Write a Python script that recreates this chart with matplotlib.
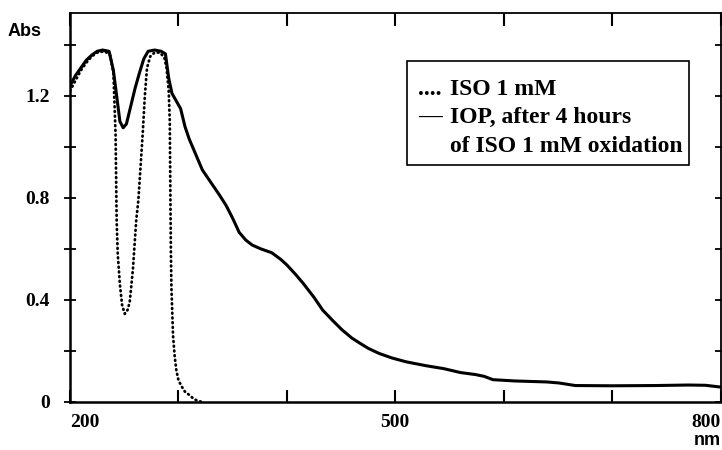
import matplotlib.pyplot as plt
from matplotlib.patches import Rectangle
from matplotlib.ticker import MultipleLocator, FixedLocator

# IOP spectrum, after 4 hours of ISO oxidation (solid line)
iop_nm = [200, 205, 210, 215, 220, 225, 230, 236, 240, 243, 246, 249, 252, 256,
          260, 264, 268, 272, 278, 284, 288, 291, 294, 298, 302, 306, 310, 316,
          322, 330, 338, 344, 350, 356, 362, 368, 376, 386, 394, 400, 408, 415,
          425, 433, 442, 451, 460, 467, 475, 485, 497, 510, 528, 545, 560, 574,
          582, 590, 610, 640, 651, 666, 700, 740, 770, 786, 800]
iop_abs = [1.24, 1.28, 1.31, 1.34, 1.36, 1.375, 1.38, 1.375, 1.30, 1.20, 1.10,
           1.075, 1.09, 1.16, 1.23, 1.29, 1.345, 1.375, 1.38, 1.375, 1.365,
           1.27, 1.21, 1.18, 1.15, 1.08, 1.03, 0.97, 0.91, 0.86, 0.81, 0.77,
           0.72, 0.665, 0.635, 0.615, 0.60, 0.585, 0.56, 0.537, 0.50, 0.465,
           0.41, 0.36, 0.32, 0.282, 0.25, 0.231, 0.21, 0.19, 0.172, 0.157,
           0.142, 0.13, 0.115, 0.107, 0.100, 0.087, 0.082, 0.078, 0.074,
           0.064, 0.063, 0.064, 0.066, 0.065, 0.058]

# ISO 1 mM spectrum (dotted line)
iso_nm = [200, 205, 210, 215, 220, 225, 232, 237, 240, 242, 243, 244, 246, 248,
          250.5, 253, 255, 258, 261, 263, 265, 267, 269, 271, 274, 278, 283,
          287, 289, 291, 292, 292.6, 293, 293.5, 295, 296.5, 298, 300, 303,
          306, 310, 314, 318, 322]
iso_abs = [1.22, 1.26, 1.30, 1.33, 1.355, 1.37, 1.375, 1.36, 1.29, 1.05, 0.71,
           0.58, 0.46, 0.38, 0.345, 0.36, 0.39, 0.52, 0.71, 0.79, 0.92, 1.05,
           1.2, 1.31, 1.355, 1.37, 1.37, 1.35, 1.31, 1.22, 1.10, 0.79, 0.60,
           0.45, 0.26, 0.18, 0.125, 0.085, 0.06, 0.04, 0.027, 0.012, 0.003, 0.0]

x_major = [200, 500, 800]
x_minor = [300, 400, 600, 700]
y_major = [0, 0.4, 0.8, 1.2]
y_labels = ['0', '0.4', '0.8', '1.2']

legend_marks = ['....', '\u2014', '']
legend_lines = ['ISO 1 mM', 'IOP, after 4 hours', 'of ISO 1 mM oxidation']

serif = 'Liberation Serif'
sans = 'Liberation Sans'

fig = plt.figure(figsize=(7.22, 4.5), dpi=100)
ax = fig.add_axes([0.097, 0.107, 0.901, 0.864])

ax.plot(iso_nm, iso_abs, color='black', lw=2.0, linestyle=(0, (0.3, 1.4)),
        dash_capstyle='round')
ax.plot(iop_nm, iop_abs, color='black', lw=2.2, solid_joinstyle='round')

ax.set_xlim(200, 800)
ax.set_ylim(0, 1.525)

for side in ['left', 'bottom']:
    ax.spines[side].set_linewidth(1.8)
for side in ['top', 'right']:
    ax.spines[side].set_linewidth(1.3)

# bottom / left ticks with labels
ax.xaxis.set_major_locator(FixedLocator(x_major))
ax.xaxis.set_minor_locator(FixedLocator(x_minor))
ax.set_xticklabels([str(v) for v in x_major], fontfamily=serif,
                   fontweight='bold', fontsize=14)
ax.yaxis.set_major_locator(FixedLocator(y_major))
ax.yaxis.set_minor_locator(MultipleLocator(0.2))
ax.set_yticklabels(y_labels, fontfamily=serif, fontweight='bold', fontsize=14)

ax.tick_params(axis='x', which='both', direction='in', length=9, width=1.5,
               top=True, pad=9)
ax.tick_params(axis='y', which='both', direction='inout', length=9, width=1.3,
               right=True, pad=10)
ax.tick_params(axis='x', which='both', top=True, labeltop=False)
ax.tick_params(axis='y', which='both', right=True, labelright=False)

labels = ax.get_xticklabels()
labels[0].set_ha('left')
labels[-1].set_ha('right')

fig.text(0.011, 0.929, 'Abs', fontfamily=sans, fontweight='bold', fontsize=13,
         ha='left', va='center')
fig.text(0.999, 0.022, 'nm', fontfamily=sans, fontweight='bold', fontsize=13,
         ha='right', va='center')

# legend drawn as a framed text block
ax.add_patch(Rectangle((0.518, 0.609), 0.434, 0.268, transform=ax.transAxes,
                       fill=False, edgecolor='black', lw=1.2))
txt = dict(transform=ax.transAxes, fontfamily=serif, fontweight='bold',
           fontsize=17, ha='left', va='baseline')
baselines = [0.789, 0.717, 0.643]
for mark, line, yb in zip(legend_marks, legend_lines, baselines):
    if mark:
        ax.text(0.535, yb, mark, **txt)
    ax.text(0.584, yb, line, **txt)

fig.savefig('out.png', dpi=100)
